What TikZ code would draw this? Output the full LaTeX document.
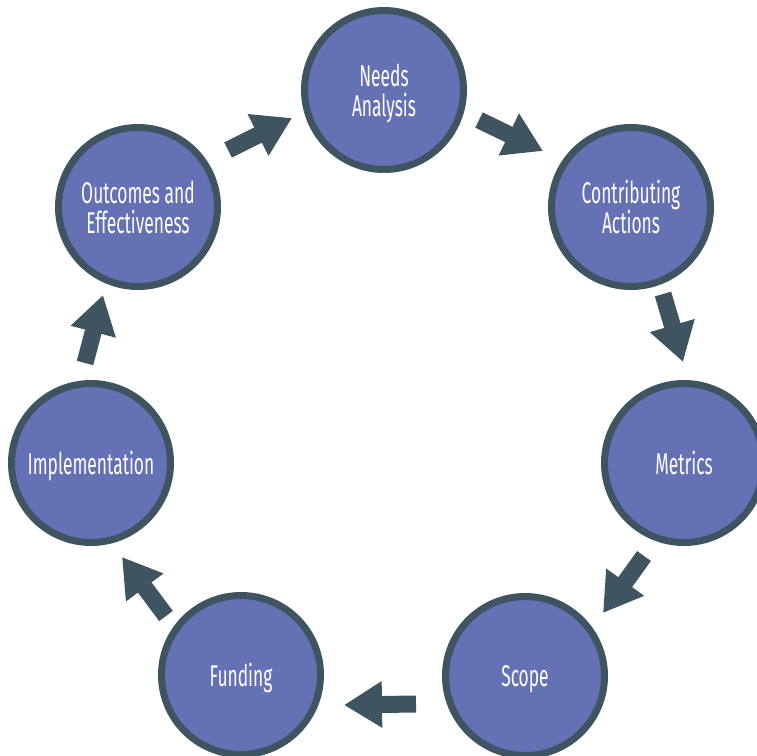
\documentclass[tikz,border=0pt]{standalone}
\usepackage{fontspec}
\newfontfamily\stagefont[FakeStretch=0.58]{Fira Sans}
\usetikzlibrary{arrows.meta}
\definecolor{StageClr}{HTML}{6471B5}
\definecolor{RimClr}{HTML}{3F5461}

\tikzset{
  stage/.style={circle,draw=RimClr,fill=StageClr,line width=7pt,
    minimum size=159pt,inner sep=0pt,text=white,align=center,
    text depth=-2pt,
    font=\stagefont\fontsize{30}{30}\selectfont},
  flow/.style={RimClr,line width=17pt,
    -{Triangle[length=38pt,width=44pt]}}
}

\begin{document}
\begin{tikzpicture}[x=1pt,y=-1pt]
\useasboundingbox (0,0) rectangle (757,755);

% stages of the cycle
\node[stage] (needs)   at (384,90)  {Needs\\Analysis};
\node[stage] (contrib) at (631,207) {Contributing\\Actions};
\node[stage] (metrics) at (684,463) {Metrics};
\node[stage] (scope)   at (525,676) {Scope};
\node[stage] (fund)    at (241,675) {Funding};
\node[stage] (impl)    at (91,463)  {Implementation};
\node[stage] (outc)    at (138,207) {Outcomes and\\Effectiveness};

% arrow ends
\coordinate (t1) at (479,120); \coordinate (h1) at (543,151);
\coordinate (t2) at (663,294); \coordinate (h2) at (683,362);
\coordinate (t3) at (644,556); \coordinate (h3) at (603,613);
\coordinate (t4) at (416,704); \coordinate (h4) at (344,705);
\coordinate (t5) at (166,616); \coordinate (h5) at (122,557);
\coordinate (t6) at (85,363);  \coordinate (h6) at (103,295);
\coordinate (t7) at (228,150); \coordinate (h7) at (292,118);

\foreach \i in {1,...,7}
  \draw[flow] (t\i) -- (h\i);

\end{tikzpicture}
\end{document}
